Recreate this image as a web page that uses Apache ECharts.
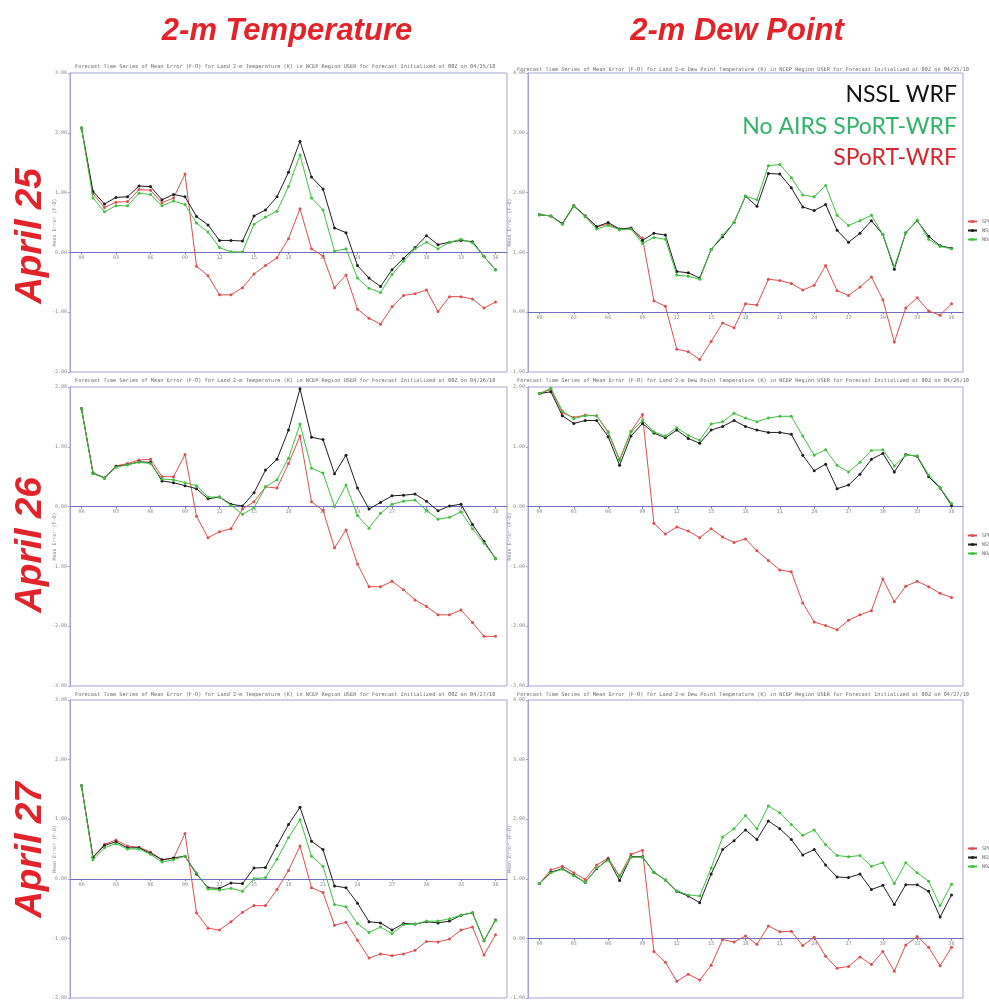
<!DOCTYPE html>
<html><head><meta charset="utf-8">
<script src="https://cdn.jsdelivr.net/npm/echarts@6/dist/echarts.min.js"></script>
<style>html,body{margin:0;padding:0;background:#fff}#c{width:989px;height:1004px}</style>
</head><body><div id="c"></div>
<script>
// ---- data ----
const hours = [0,1,2,3,4,5,6,7,8,9,10,11,12,13,14,15,16,17,18,19,20,21,22,23,24,25,26,27,28,29,30,31,32,33,34,35,36];
const xTickHours = [0,3,6,9,12,15,18,21,24,27,30,33,36];
const seriesNames = ['SPORT','NSSLWRF','NOAIRS'];
const columnHeadings = ['2-m Temperature','2-m Dew Point'];
const rowLabels = ['April 25','April 26','April 27'];
const initDates = ['04/25/10','04/26/10','04/27/10'];
const varNames = ['Land 2-m Temperature (K)','Land 2-m Dew Point Temperature (K)'];
const bigLegend = ['NSSL WRF','No AIRS SPoRT-WRF','SPoRT-WRF'];

// April 25 - 2-m Temperature
const t25_sport  = [2.08,0.98,0.75,0.84,0.85,1.05,1.04,0.83,0.91,1.31,-0.23,-0.39,-0.71,-0.71,-0.59,-0.36,-0.22,-0.09,0.23,0.73,0.06,-0.06,-0.59,-0.38,-0.95,-1.10,-1.20,-0.91,-0.72,-0.69,-0.63,-0.99,-0.74,-0.74,-0.78,-0.93,-0.83];
const t25_nssl   = [2.08,1.02,0.81,0.92,0.93,1.11,1.10,0.88,0.97,0.93,0.60,0.46,0.20,0.20,0.19,0.61,0.71,0.93,1.34,1.86,1.26,1.06,0.41,0.33,-0.22,-0.43,-0.57,-0.29,-0.10,0.08,0.28,0.13,0.17,0.20,0.18,-0.07,-0.29];
const t25_noairs = [2.08,0.91,0.68,0.78,0.78,0.99,0.97,0.78,0.86,0.80,0.49,0.34,0.08,0.01,0.01,0.47,0.59,0.69,1.10,1.63,0.91,0.71,0.02,0.06,-0.43,-0.60,-0.67,-0.37,-0.15,0.06,0.17,0.06,0.17,0.22,0.16,-0.07,-0.29];
// April 25 - 2-m Dew Point
const d25_sport  = [1.63,1.61,1.48,1.78,1.61,1.43,1.47,1.39,1.40,1.24,0.19,0.10,-0.62,-0.66,-0.79,-0.49,-0.18,-0.26,0.14,0.12,0.55,0.53,0.48,0.37,0.45,0.78,0.36,0.28,0.42,0.59,0.21,-0.50,0.07,0.24,0.02,-0.05,0.14];
const d25_nssl   = [1.63,1.61,1.48,1.78,1.61,1.43,1.50,1.39,1.41,1.20,1.32,1.29,0.68,0.66,0.57,1.05,1.26,1.50,1.94,1.77,2.32,2.31,2.08,1.76,1.70,1.80,1.37,1.17,1.32,1.53,1.30,0.72,1.33,1.53,1.27,1.11,1.07];
const d25_noairs = [1.63,1.61,1.47,1.77,1.60,1.39,1.45,1.38,1.39,1.15,1.25,1.22,0.62,0.60,0.55,1.05,1.29,1.50,1.94,1.88,2.45,2.47,2.25,1.96,1.93,2.12,1.62,1.45,1.53,1.62,1.30,0.76,1.33,1.54,1.22,1.10,1.06];
// April 26 - 2-m Temperature
const t26_sport  = [1.64,0.56,0.48,0.68,0.72,0.78,0.79,0.50,0.50,0.87,-0.16,-0.52,-0.42,-0.37,-0.04,0.08,0.33,0.31,0.72,1.18,0.08,-0.06,-0.69,-0.39,-0.96,-1.34,-1.34,-1.25,-1.39,-1.56,-1.67,-1.81,-1.81,-1.73,-1.94,-2.17,-2.17];
const t26_nssl   = [1.64,0.56,0.48,0.67,0.70,0.75,0.74,0.43,0.40,0.35,0.30,0.13,0.16,0.04,0.01,0.23,0.61,0.79,1.28,1.97,1.16,1.12,0.55,0.86,0.31,-0.04,0.07,0.18,0.19,0.21,0.09,-0.07,0.01,0.04,-0.30,-0.58,-0.87];
const t26_noairs = [1.64,0.55,0.48,0.66,0.70,0.74,0.72,0.46,0.45,0.40,0.35,0.16,0.16,0.02,-0.13,-0.02,0.33,0.45,0.81,1.38,0.64,0.56,0.00,0.36,-0.15,-0.36,-0.11,0.04,0.09,0.11,-0.06,-0.21,-0.18,-0.09,-0.37,-0.61,-0.87];
// April 26 - 2-m Dew Point
const d26_sport  = [1.89,1.96,1.57,1.49,1.53,1.52,1.25,0.79,1.26,1.54,-0.28,-0.46,-0.34,-0.41,-0.52,-0.37,-0.51,-0.60,-0.54,-0.74,-0.90,-1.06,-1.09,-1.61,-1.93,-1.99,-2.06,-1.90,-1.81,-1.74,-1.21,-1.59,-1.33,-1.25,-1.34,-1.45,-1.52];
const d26_nssl   = [1.89,1.92,1.52,1.39,1.44,1.44,1.17,0.69,1.18,1.39,1.23,1.15,1.28,1.14,1.06,1.28,1.34,1.44,1.34,1.28,1.24,1.24,1.21,0.86,0.60,0.71,0.30,0.36,0.54,0.79,0.89,0.58,0.87,0.84,0.50,0.31,0.02];
const d26_noairs = [1.89,1.98,1.60,1.47,1.52,1.52,1.24,0.77,1.25,1.44,1.25,1.18,1.32,1.19,1.11,1.38,1.42,1.56,1.48,1.42,1.48,1.51,1.51,1.18,0.86,0.95,0.69,0.58,0.74,0.94,0.95,0.68,0.86,0.85,0.53,0.32,0.05];
// April 27 - 2-m Temperature
const t27_sport  = [1.56,0.36,0.58,0.65,0.55,0.53,0.45,0.32,0.34,0.76,-0.57,-0.83,-0.86,-0.72,-0.56,-0.45,-0.45,-0.18,0.14,0.55,-0.15,-0.23,-0.78,-0.73,-1.03,-1.33,-1.26,-1.29,-1.26,-1.20,-1.05,-1.06,-1.01,-0.86,-0.81,-1.28,-0.94];
const t27_nssl   = [1.56,0.36,0.56,0.62,0.52,0.52,0.43,0.32,0.35,0.38,0.08,-0.15,-0.16,-0.07,-0.08,0.18,0.19,0.56,0.91,1.20,0.63,0.49,-0.12,-0.15,-0.41,-0.72,-0.74,-0.86,-0.75,-0.76,-0.72,-0.74,-0.71,-0.61,-0.57,-1.04,-0.69];
const t27_noairs = [1.56,0.32,0.52,0.59,0.50,0.50,0.41,0.28,0.32,0.38,0.10,-0.17,-0.19,-0.16,-0.21,0.00,0.02,0.33,0.69,0.99,0.38,0.21,-0.43,-0.47,-0.75,-0.90,-0.81,-0.92,-0.77,-0.76,-0.71,-0.71,-0.67,-0.61,-0.57,-1.04,-0.70];
// April 27 - 2-m Dew Point
const d27_sport  = [0.92,1.15,1.21,1.10,0.99,1.23,1.35,1.05,1.41,1.48,-0.22,-0.40,-0.72,-0.60,-0.70,-0.45,-0.02,-0.06,0.04,-0.10,0.21,0.11,0.12,-0.12,0.02,-0.30,-0.50,-0.47,-0.31,-0.44,-0.22,-0.55,-0.11,0.03,-0.15,-0.46,-0.15];
const d27_nssl   = [0.92,1.11,1.17,1.06,0.94,1.17,1.33,0.97,1.37,1.37,1.11,0.98,0.79,0.71,0.60,1.08,1.49,1.64,1.82,1.66,1.97,1.84,1.66,1.40,1.49,1.23,1.03,1.02,1.08,0.82,0.89,0.57,0.90,0.90,0.79,0.36,0.73];
const d27_noairs = [0.92,1.10,1.16,1.05,0.94,1.18,1.31,1.04,1.36,1.36,1.11,0.98,0.80,0.73,0.71,1.18,1.70,1.84,2.06,1.84,2.22,2.11,1.91,1.73,1.82,1.57,1.39,1.37,1.39,1.21,1.27,0.92,1.27,1.10,0.96,0.55,0.91];

// y-axis ranges per panel
const yMin = [-2,-1,-3,-3,-2,-1];
const yMax = [3,4,2,2,3,4];

// ---- layout ----
const colLeft = [70, 528], colWidth = [437, 435];
const rowTop = [73, 387, 700], rowHeight = [299, 299, 298];
const titleY = [[67,70],[381,381],[695,695]];
const seriesColors = ['#e04c4c','#1e1e1e','#3ec23e'];

const panelData = [
  [t25_sport,t25_nssl,t25_noairs],[d25_sport,d25_nssl,d25_noairs],
  [t26_sport,t26_nssl,t26_noairs],[d26_sport,d26_nssl,d26_noairs],
  [t27_sport,t27_nssl,t27_noairs],[d27_sport,d27_nssl,d27_noairs]
];

const grid=[], xAxis=[], yAxis=[], series=[], graphic=[], legend=[];
panelData.forEach((arrs,p)=>{
  const r = Math.floor(p/2), c = p%2;
  const h = rowHeight[r];
  // the x axis sits on the zero line: shift it up from the grid bottom
  const zeroOffset = -h * (0 - yMin[p]) / (yMax[p] - yMin[p]);
  grid.push({left:colLeft[c], top:rowTop[r], width:colWidth[c], height:h,
    show:true, borderColor:'#a3a3d6', borderWidth:1, backgroundColor:'#fff', containLabel:false});
  xAxis.push({type:'value', gridIndex:p, min:-1, max:37, position:'bottom', offset:zeroOffset,
    axisLine:{onZero:false, lineStyle:{color:'#6e6ec2', width:1}},
    axisTick:{show:true, customValues:xTickHours, length:2, lineStyle:{color:'#6e6ec2'}},
    axisLabel:{customValues:xTickHours, fontSize:5, color:'#888', margin:3, fontFamily:'DejaVu Sans Mono',
      formatter:v=>String(v).padStart(2,'0')},
    splitLine:{show:false}});
  yAxis.push({type:'value', gridIndex:p, min:yMin[p], max:yMax[p], interval:1,
    axisLine:{show:true, onZero:false, lineStyle:{color:'#a3a3d6'}},
    axisTick:{show:true, length:2, lineStyle:{color:'#a3a3d6'}},
    axisLabel:{fontSize:5, color:'#888', margin:3, fontFamily:'DejaVu Sans Mono', formatter:v=>v.toFixed(2)},
    splitLine:{show:false},
    name:'Mean Error (F-O)', nameLocation:'middle', nameGap:c===0?13:16, nameRotate:90, nameMoveOverlap:false,
    nameTextStyle:{fontSize:5, color:'#888', fontFamily:'DejaVu Sans Mono'}});
  arrs.forEach((arr,k)=>{
    series.push({type:'line', name:seriesNames[k], xAxisIndex:p, yAxisIndex:p,
      data:hours.map((hr,i)=>[hr,arr[i]]),
      symbol:'circle', symbolSize:3, showSymbol:true,
      lineStyle:{width:1, color:seriesColors[k]}, itemStyle:{color:seriesColors[k]},
      z:2+k, animation:false});
  });
  graphic.push({type:'text', x:c===0?75:517, y:titleY[r][c], silent:true,
    style:{text:'Forecast Time Series of Mean Error (F-O) for '+varNames[c]+' in NCEP Region USER for Forecast Initialized at 00Z on '+initDates[r],
      fontSize:5.25, fontFamily:'DejaVu Sans Mono', fill:'#666', align:'left', verticalAlign:'middle'}});
  if(c===1){
    legend.push({data:seriesNames, orient:'vertical', left:962, top:rowTop[r]+141, itemWidth:9, itemHeight:4, itemGap:4,
      textStyle:{fontSize:5, color:'#666', fontFamily:'DejaVu Sans Mono'}, selectedMode:false});
  }
});

// big headings
[287, 737].forEach((x,i)=>{
  graphic.push({type:'text', x:x, y:31, style:{text:columnHeadings[i], align:'center', verticalAlign:'middle',
    fontSize:31, fontStyle:'italic', fontWeight:'bold', fontFamily:'Liberation Sans', fill:'#e3232a'}});
});
[236, 545, 850].forEach((y,i)=>{
  graphic.push({type:'text', x:31, y:y, rotation:Math.PI/2, style:{text:rowLabels[i], align:'center', verticalAlign:'middle',
    fontSize:37, fontStyle:'italic', fontWeight:'bold', fontFamily:'Liberation Sans', fill:'#e3232a'}});
});
// big legend text in top-right panel
const bigColors = ['#111111','#2fb46a','#d7262c'];
[95, 127, 158].forEach((y,i)=>{
  graphic.push({type:'text', x:957, y:y, style:{text:bigLegend[i], align:'right', verticalAlign:'middle',
    fontSize:23, fontFamily:'Lato', fill:bigColors[i]}});
});

const chart = echarts.init(document.getElementById('c'), null, {renderer:'canvas'});
chart.setOption({animation:false, backgroundColor:'#fff', grid, xAxis, yAxis, series, legend, graphic});
</script></body></html>
